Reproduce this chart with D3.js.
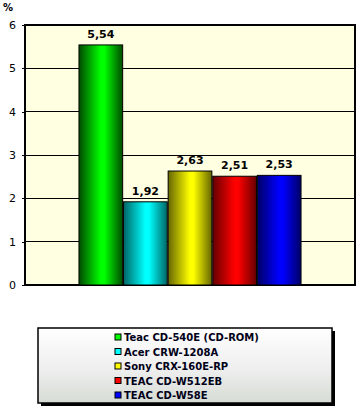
<!DOCTYPE html>
<html>
<head>
<meta charset="utf-8">
<script src="https://cdn.jsdelivr.net/npm/d3@7"></script>
<style>
  body { margin: 0; background: #fff; }
  svg { display: block; font-family: "DejaVu Sans", Verdana, sans-serif; }
</style>
</head>
<body>
<div id="chart"></div>
<script>
// data
const drives = ["Teac CD-540E (CD-ROM)", "Acer CRW-1208A", "Sony CRX-160E-RP", "TEAC CD-W512EB", "TEAC CD-W58E"]
const values = [5.54, 1.92, 2.63, 2.51, 2.53]
const barColors = ["#00ff00", "#00ffff", "#ffff00", "#ff0000", "#0000ff"]
const darkColors = ["#004a00", "#006666", "#666600", "#660000", "#000066"]
const yTicks = [0, 1, 2, 3, 4, 5, 6]

const W = 361, H = 409
const margin = {top: 25, right: 6, bottom: 124, left: 25}
const width = W - margin.left - margin.right,
  height = H - margin.top - margin.bottom

const svg = d3.select("#chart")
  .append("svg")
    .attr("width", W)
    .attr("height", H)

const defs = svg.append("defs")

// bar gradients, dark at the sides and bright in the middle
drives.forEach((d, i) => {
  const g = defs.append("linearGradient")
    .attr("id", "bar" + i)
    .attr("x1", 0).attr("y1", 0).attr("x2", 1).attr("y2", 0)
  g.append("stop").attr("offset", "0%").attr("stop-color", darkColors[i])
  g.append("stop").attr("offset", "50%").attr("stop-color", barColors[i])
  g.append("stop").attr("offset", "58%").attr("stop-color", barColors[i])
  g.append("stop").attr("offset", "100%").attr("stop-color", darkColors[i])
})

const lg = defs.append("linearGradient")
  .attr("id", "legendBg")
  .attr("x1", 0).attr("y1", 0).attr("x2", 0).attr("y2", 1)
lg.append("stop").attr("offset", "0%").attr("stop-color", "#ffffff")
lg.append("stop").attr("offset", "55%").attr("stop-color", "#eeeeee")
lg.append("stop").attr("offset", "100%").attr("stop-color", "#d6dcd4")

const g = svg.append("g")
  .attr("transform", `translate(${margin.left},${margin.top})`)

// plot background
g.append("rect")
  .attr("width", width)
  .attr("height", height)
  .attr("fill", "#ffffe2")

// scales
const x0 = d3.scaleBand()
  .domain(["all"])
  .range([0, width])
  .paddingInner(0)
  .paddingOuter(0.243)

const x1 = d3.scaleBand()
  .domain(drives)
  .range([0, x0.bandwidth()])
  .paddingInner(0.02)

const y = d3.scaleLinear()
  .domain([0, 6])
  .range([height, 0])

// gridlines
g.append("g")
  .selectAll("line")
  .data(yTicks.filter(t => t > 0))
  .join("line")
    .attr("x1", 0).attr("x2", width)
    .attr("y1", d => y(d)).attr("y2", d => y(d))
    .attr("stroke", "#000")
    .attr("shape-rendering", "crispEdges")

// y axis
const yAxis = g.append("g")
  .call(d3.axisLeft(y).tickValues(yTicks).tickSize(3).tickPadding(6).tickFormat(d3.format("d")))
yAxis.select(".domain").remove()
yAxis.selectAll("line").attr("shape-rendering", "crispEdges")
yAxis.selectAll("text")
  .attr("font-size", 11)
  .attr("font-family", "\"DejaVu Sans\", sans-serif")
  .attr("fill", "#000")

// plot frame
g.append("rect")
  .attr("width", width)
  .attr("height", height)
  .attr("fill", "none")
  .attr("stroke", "#000")
  .attr("stroke-width", 1.5)
  .attr("shape-rendering", "crispEdges")

// bars
const bars = g.append("g")
  .attr("transform", `translate(${x0("all")},0)`)

bars.selectAll("rect")
  .data(drives)
  .join("rect")
    .attr("x", d => x1(d))
    .attr("y", (d, i) => y(values[i]))
    .attr("width", x1.bandwidth())
    .attr("height", (d, i) => y(0) - y(values[i]))
    .attr("fill", (d, i) => `url(#bar${i})`)
    .attr("stroke", "#000")
    .attr("stroke-width", 1)

bars.selectAll("text")
  .data(drives)
  .join("text")
    .attr("x", d => x1(d) + x1.bandwidth() / 2)
    .attr("y", (d, i) => y(values[i]) - 7)
    .attr("text-anchor", "middle")
    .attr("font-size", 11)
    .attr("font-weight", "bold")
    .attr("fill", "#000")
    .text((d, i) => d3.format(".2f")(values[i]).replace(".", ","))

// unit label
svg.append("text")
  .attr("x", 3)
  .attr("y", 11)
  .attr("font-size", 10)
  .attr("font-weight", "bold")
  .text("%")

// legend
const leg = svg.append("g")
  .attr("transform", "translate(38,328)")
const legW = 294, legH = 75

leg.append("rect")
  .attr("x", 3).attr("y", 3)
  .attr("width", legW).attr("height", legH)
  .attr("fill", "#000")
leg.append("rect")
  .attr("width", legW).attr("height", legH)
  .attr("fill", "url(#legendBg)")
  .attr("stroke", "#000")
  .attr("stroke-width", 1.5)

const items = leg.selectAll("g.item")
  .data(drives)
  .join("g")
    .attr("class", "item")
    .attr("transform", (d, i) => `translate(77,${6 + i * 14.5})`)

items.append("rect")
  .attr("width", 6).attr("height", 6)
  .attr("fill", (d, i) => barColors[i])
  .attr("stroke", "#000")
  .attr("stroke-width", 1)

items.append("text")
  .attr("x", 9)
  .attr("y", 7)
  .attr("font-size", 10)
  .attr("font-weight", "bold")
  .attr("fill", "#000018")
  .text(d => d)
</script>
</body>
</html>
